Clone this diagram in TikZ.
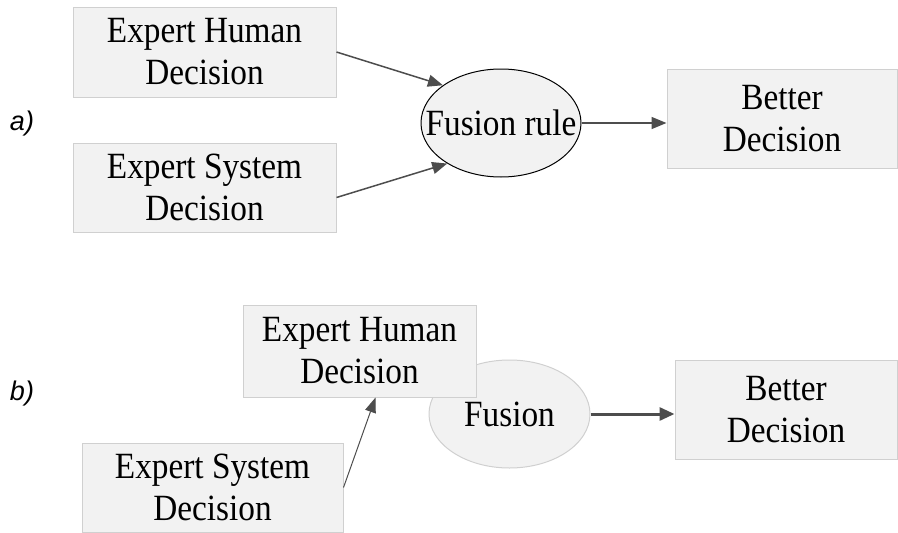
\documentclass[tikz,border=0pt]{standalone}
\usepackage{fontspec}
\setmainfont{Liberation Serif}[FakeStretch=0.9]
\newfontfamily\labfont{Liberation Sans}
\usetikzlibrary{shapes.geometric,arrows.meta}
\definecolor{boxfill}{HTML}{F2F2F2}
\definecolor{boxline}{HTML}{D0D0D0}
\definecolor{arr}{HTML}{4D4D4D}
\begin{document}
\begin{tikzpicture}[x=1pt,y=-1pt,
  box/.style={draw=boxline,fill=boxfill,line width=1pt,inner sep=0pt,align=center,font=\fontsize{37}{42}\selectfont},
  ell/.style={ellipse,inner sep=0pt,fill=boxfill,font=\fontsize{37}{42}\selectfont},
  conn/.style={draw=arr,line width=1.5pt,-{Triangle[length=15pt,width=12pt]}},
  panel/.style={font=\labfont\itshape\fontsize{27}{30}\selectfont}]
\useasboundingbox (0,0) rectangle (898,533);
% panel a
\node[panel] (la) at (22,124) {a)};
\node[box,minimum width=263pt,minimum height=90pt] (eha) at (204.5,52) {Expert Human\\Decision};
\node[box,minimum width=263pt,minimum height=89pt] (esa) at (204.5,187.5) {Expert System\\Decision};
\node[ell,draw=black,line width=1pt,minimum width=160pt,minimum height=108pt] (fr) at (501,123) {\makebox[0pt]{Fusion rule}};
\node[box,minimum width=230pt,minimum height=99pt] (bra) at (782,118.5) {Better\\Decision};
\draw[conn] (eha.east) -- (fr.147);
\draw[conn] ([yshift=-10pt]esa.east) -- (fr.217);
\draw[conn] (fr.east) -- (fr.east -| bra.west);
% panel b
\node[panel] (lb) at (22,394) {b)};
\node[ell,draw=boxline,line width=1pt,minimum width=161pt,minimum height=108pt] (fu) at (509.5,414) {\makebox[0pt]{Fusion}};
\node[box,minimum width=233pt,minimum height=92pt] (ehb) at (359.5,351) {Expert Human\\Decision};
\node[box,minimum width=261pt,minimum height=89pt] (esb) at (212.5,487.5) {Expert System\\Decision};
\node[box,minimum width=222pt,minimum height=99pt] (brb) at (786,409.5) {Better\\Decision};
\draw[conn,line width=1pt,-{Triangle[length=15pt,width=11pt]}] (esb.east) -- ([xshift=16pt]ehb.south);
\draw[conn,line width=3pt,-{Triangle[length=15pt,width=13pt]}] (fu.east) -- (fu.east -| brb.west);
\end{tikzpicture}
\end{document}
